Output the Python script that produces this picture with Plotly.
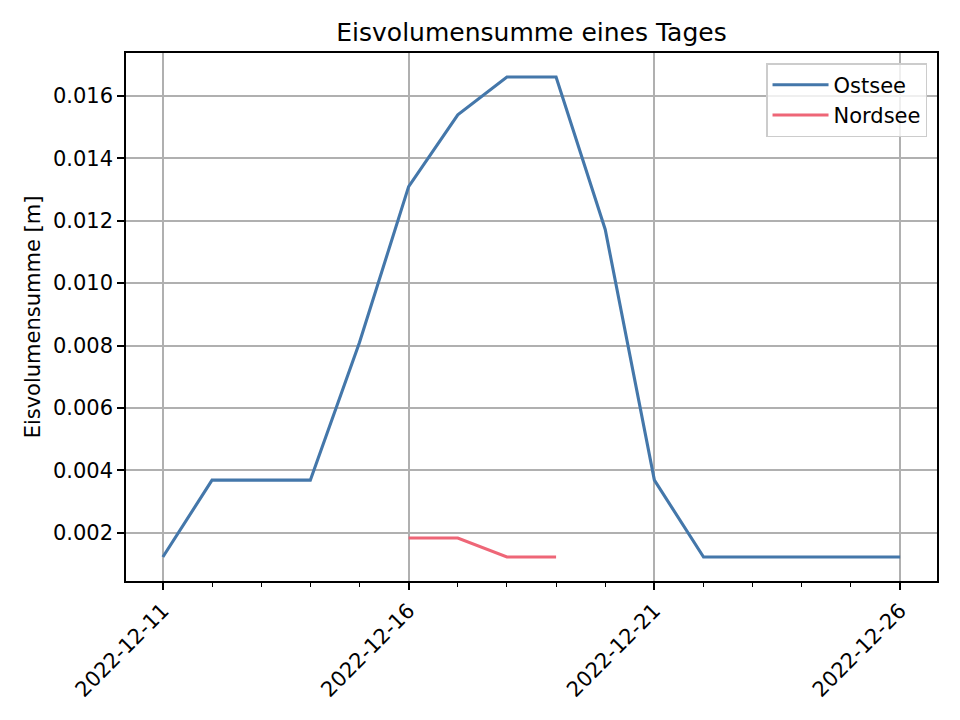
import plotly.graph_objects as go

dates = ["2022-12-11", "2022-12-12", "2022-12-13", "2022-12-14", "2022-12-15",
         "2022-12-16", "2022-12-17", "2022-12-18", "2022-12-19", "2022-12-20",
         "2022-12-21", "2022-12-22", "2022-12-23", "2022-12-24", "2022-12-25",
         "2022-12-26"]
ostsee = [0.00123, 0.00369, 0.00369, 0.00369, 0.0081,
          0.01309, 0.01539, 0.0166, 0.0166, 0.01172,
          0.00369, 0.00123, 0.00123, 0.00123, 0.00123, 0.00123]
nord_dates = ["2022-12-16", "2022-12-17", "2022-12-18", "2022-12-19"]
nordsee = [0.00184, 0.00184, 0.00123, 0.00123]

xtick_vals = ["2022-12-11", "2022-12-16", "2022-12-21", "2022-12-26"]
ytick_vals = [0.002, 0.004, 0.006, 0.008, 0.010, 0.012, 0.014, 0.016]

FONT = "DejaVu Sans"
OFF = 8  # page body margin offset

fig = go.Figure()
fig.add_trace(go.Scatter(x=dates, y=ostsee, mode="lines", name="Ostsee",
                         line=dict(color="#4477AA", width=3.1)))
fig.add_trace(go.Scatter(x=nord_dates, y=nordsee, mode="lines", name="Nordsee",
                         line=dict(color="#EE6677", width=3.1)))

fig.update_layout(
    width=960, height=720,
    margin=dict(l=126 - OFF, r=23 + OFF, t=53 - OFF, b=139 + OFF),
    paper_bgcolor="white", plot_bgcolor="white",
    font=dict(family=FONT, size=21, color="black"),
    title=dict(text="Eisvolumensumme eines Tages", x=0.5, xref="paper",
               y=1 - (32 - OFF) / 720, yref="container", yanchor="middle",
               font=dict(size=25, family=FONT, color="black")),
    legend=dict(x=0.9877, xanchor="right", y=0.981, yanchor="top",
                bgcolor="rgba(255,255,255,0.8)", bordercolor="#cccccc",
                borderwidth=1.5, font=dict(size=21, family=FONT),
                itemwidth=56),
    showlegend=True,
)

fig.update_xaxes(
    type="date",
    range=["2022-12-10 06:00", "2022-12-26 18:00"],
    tickvals=xtick_vals, ticktext=xtick_vals, tickangle=-45,
    showgrid=True, gridcolor="#b0b0b0", gridwidth=1.6,
    showline=True, linecolor="black", linewidth=1.6, mirror=True,
    ticks="outside", ticklen=7, tickwidth=1.6, tickcolor="black",
    minor=dict(dtick=86400000, tick0="2022-12-11", ticks="outside", ticklen=4,
               tickwidth=1.2, tickcolor="black", showgrid=False),
    tickfont=dict(size=21, family=FONT), zeroline=False,
)
fig.update_yaxes(
    range=[0.000461, 0.01737],
    tickvals=ytick_vals, tickformat=".3f",
    showgrid=True, gridcolor="#b0b0b0", gridwidth=1.6,
    showline=True, linecolor="black", linewidth=1.6, mirror=True,
    ticks="outside", ticklen=7, tickwidth=1.6, tickcolor="black",
    tickfont=dict(size=21, family=FONT), zeroline=False,
    title=dict(text="Eisvolumensumme [m]", font=dict(size=21, family=FONT), standoff=7),
)

fig.write_html("out.html")
